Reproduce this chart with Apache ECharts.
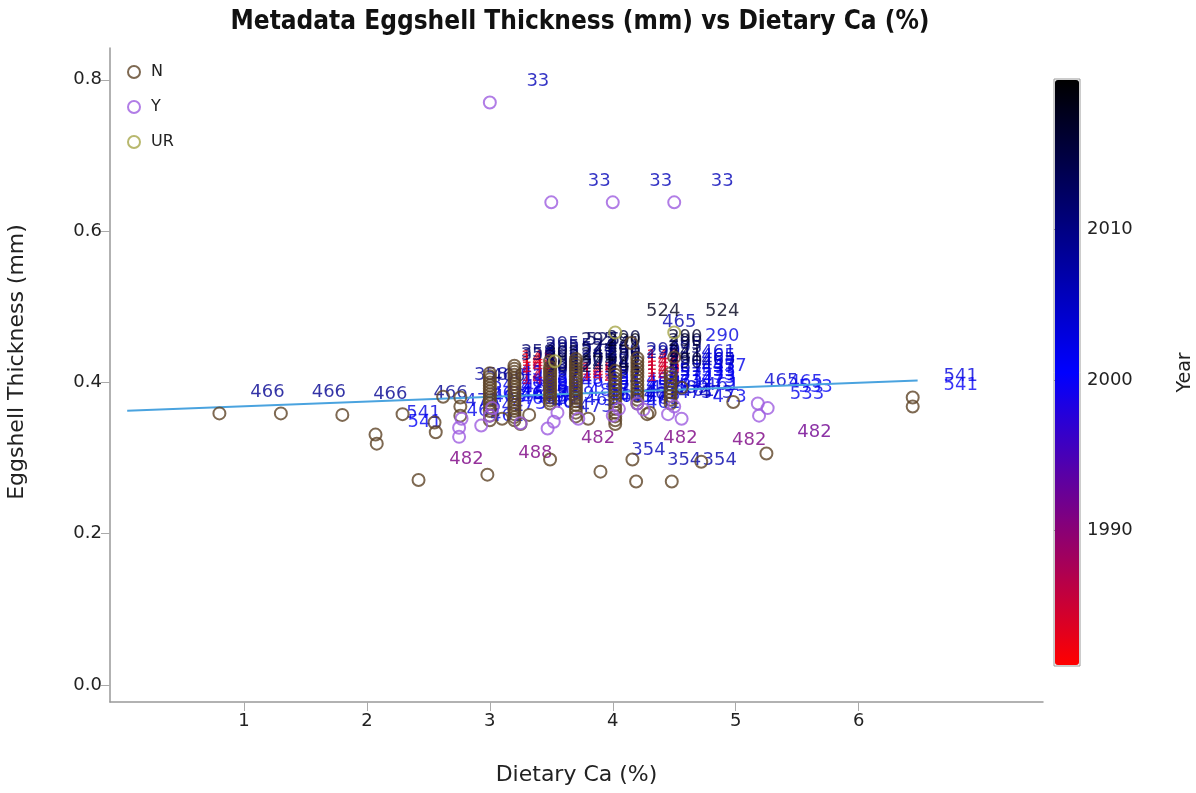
<!DOCTYPE html>
<html lang="en">
<head>
<meta charset="UTF-8">
<title>Metadata Eggshell Thickness vs Dietary Ca</title>
<script src="https://cdn.jsdelivr.net/npm/echarts@6/dist/echarts.min.js"></script>
<style>html,body{margin:0;padding:0;background:#fff}</style>
</head>
<body>
<div id="main" style="width:1196px;height:793px;"></div>
<script>
// each point: [dietary Ca %, eggshell thickness mm, year, reference id]
var nPoints = [
    [0.80, 0.359, 2009, 466], [1.30, 0.359, 2009, 466], [1.80, 0.357, 2009, 466], [2.29, 0.358, 2009, 466],
    [2.07, 0.331, 2003, 541], [2.08, 0.319, 2001, 541],
    [2.55, 0.347, 2004, 473], [2.56, 0.334, 2002, 461], [2.62, 0.381, 2008, 358],
    [2.42, 0.271, 1991, 482], [2.98, 0.278, 1991, 488], [3.49, 0.298, 1991, 482], [3.90, 0.282, 2006, 354],
    [4.16, 0.298, 1991, 482], [4.19, 0.269, 2007, 354], [4.48, 0.269, 2007, 354], [4.72, 0.295, 1991, 482],
    [5.25, 0.306, 1992, 482],
    [4.98, 0.374, 2004, 465], [4.30, 0.360, 2005, 461], [6.44, 0.380, 2003, 541], [6.44, 0.368, 2000, 541],
    [2.76, 0.356, 2001, 461], [2.76, 0.368, 2002, 541], [2.76, 0.380, 2009, 466],
    [3.00, 0.350, 2001, 461], [3.00, 0.362, 2002, 473], [3.00, 0.372, 2000, 489], [3.00, 0.380, 1985, 145],
    [3.00, 0.388, 2001, 457], [3.00, 0.396, 1984, 142], [3.00, 0.404, 1983, 145], [3.00, 0.412, 2012, 358],
    [3.00, 0.356, 2002, 461], [3.00, 0.367, 2001, 473], [3.00, 0.376, 1986, 145], [3.00, 0.384, 2003, 457],
    [3.00, 0.392, 1984, 142], [3.00, 0.400, 1983, 142], [3.00, 0.408, 2011, 358],
    [3.20, 0.350, 2002, 461], [3.20, 0.358, 2001, 473], [3.20, 0.366, 2003, 489], [3.20, 0.374, 2000, 461],
    [3.20, 0.382, 2004, 457], [3.20, 0.390, 2011, 295], [3.20, 0.398, 2013, 305], [3.20, 0.406, 2014, 295],
    [3.20, 0.414, 2012, 305], [3.20, 0.422, 2010, 295],
    [3.20, 0.354, 2001, 473], [3.20, 0.362, 2003, 461], [3.20, 0.370, 2002, 489], [3.20, 0.378, 2001, 457],
    [3.20, 0.386, 2009, 295], [3.20, 0.394, 2015, 305], [3.20, 0.402, 2012, 295], [3.20, 0.410, 2016, 305],
    [3.20, 0.418, 2011, 295],
    [3.49, 0.372, 2002, 461], [3.49, 0.380, 1984, 142], [3.49, 0.388, 1983, 145], [3.49, 0.396, 2015, 241],
    [3.49, 0.404, 2013, 305], [3.49, 0.412, 2016, 241], [3.49, 0.420, 2011, 524],
    [3.49, 0.376, 2001, 457], [3.49, 0.384, 1985, 145], [3.49, 0.392, 2014, 241], [3.49, 0.400, 2012, 305],
    [3.49, 0.408, 2017, 241], [3.49, 0.416, 2010, 524], [3.49, 0.428, 2014, 295],
    [3.70, 0.355, 2003, 461], [3.70, 0.365, 2001, 473], [3.70, 0.375, 2006, 354], [3.70, 0.383, 2002, 457],
    [3.70, 0.391, 2014, 295], [3.70, 0.399, 2012, 241], [3.70, 0.407, 2017, 305], [3.70, 0.415, 2010, 290],
    [3.70, 0.423, 2013, 241], [3.70, 0.431, 2015, 290],
    [3.70, 0.360, 2002, 473], [3.70, 0.370, 2004, 461], [3.70, 0.379, 2001, 457], [3.70, 0.387, 2013, 295],
    [3.70, 0.395, 2016, 241], [3.70, 0.403, 2011, 305], [3.70, 0.411, 2015, 290], [3.70, 0.419, 2012, 241],
    [3.70, 0.427, 2018, 290],
    [4.02, 0.345, 2002, 461], [4.02, 0.355, 2001, 473], [4.02, 0.365, 2003, 457], [4.02, 0.375, 2000, 489],
    [4.02, 0.385, 1985, 142], [4.02, 0.395, 1984, 145], [4.02, 0.405, 1983, 142], [4.02, 0.415, 2009, 290],
    [4.02, 0.350, 2003, 461], [4.02, 0.360, 2002, 473], [4.02, 0.370, 2001, 457], [4.02, 0.380, 1986, 142],
    [4.02, 0.390, 1984, 145], [4.02, 0.400, 1985, 142], [4.02, 0.410, 2008, 290],
    [4.20, 0.372, 2001, 473], [4.20, 0.382, 2003, 457], [4.20, 0.392, 2006, 461], [4.20, 0.402, 2014, 290],
    [4.20, 0.412, 2016, 241], [4.20, 0.422, 2012, 295], [4.20, 0.432, 2017, 290],
    [4.20, 0.377, 2002, 473], [4.20, 0.387, 2004, 457], [4.20, 0.397, 2013, 290], [4.20, 0.407, 2015, 241],
    [4.20, 0.417, 2011, 295], [4.20, 0.427, 2016, 290],
    [4.47, 0.372, 2002, 473], [4.47, 0.382, 2001, 533], [4.47, 0.392, 2003, 457], [4.47, 0.402, 2007, 465],
    [4.47, 0.412, 2004, 461],
    [4.47, 0.377, 2001, 473], [4.47, 0.387, 2002, 533], [4.47, 0.397, 2005, 457], [4.47, 0.407, 2003, 465],
    [3.10, 0.352, 2003, 473], [3.25, 0.345, 2001, 461], [3.32, 0.357, 2002, 489], [3.80, 0.352, 2001, 461],
    [4.28, 0.358, 2003, 473], [4.15, 0.452, 2007, 465], [4.50, 0.433, 2003, 290], [4.56, 0.393, 2002, 457]
];
var yPoints = [
    [3.00, 0.770, 2006, 33], [3.50, 0.638, 2006, 33], [4.00, 0.638, 2006, 33], [4.50, 0.638, 2006, 33],
    [2.75, 0.328, 2002, 461], [2.75, 0.340, 2003, 541], [2.77, 0.352, 2001, 466], [2.93, 0.343, 2000, 473],
    [3.00, 0.356, 2002, 461], [3.02, 0.366, 1999, 489], [3.25, 0.346, 2003, 461], [3.47, 0.339, 2004, 473],
    [3.52, 0.348, 2002, 461], [3.55, 0.360, 2001, 489], [3.72, 0.352, 2003, 461], [4.00, 0.356, 2005, 461],
    [4.05, 0.365, 2003, 473], [4.20, 0.372, 2002, 461], [4.25, 0.364, 2004, 489], [4.45, 0.358, 2006, 473],
    [4.50, 0.368, 2003, 461], [4.56, 0.352, 2002, 473], [5.18, 0.372, 2002, 465], [5.26, 0.366, 2001, 533],
    [5.19, 0.356, 2002, 533]
];
var urPoints = [
    [3.53, 0.428, 2013, 525], [4.02, 0.466, 2018, 524], [4.50, 0.466, 2018, 524]
];
var fitLine = [[0.05, 0.3625], [6.48, 0.4025]];
var xTicks = [1, 2, 3, 4, 5, 6];
var yTicks = [0, 0.2, 0.4, 0.6, 0.8];
var yearTicks = [1990, 2000, 2010];
var yearStops = [[1981, [255, 0, 0]], [2000.5, [0, 0, 255]], [2020, [0, 0, 0]]];

function yearColor(yr) {
    var a = yearStops[0], b = yearStops[1];
    if (yr > yearStops[1][0]) { a = yearStops[1]; b = yearStops[2]; }
    var t = Math.max(0, Math.min(1, (yr - a[0]) / (b[0] - a[0])));
    var c = a[1].map(function (v, i) { return Math.round(v + (b[1][i] - v) * t); });
    return 'rgb(' + c.join(',') + ')';
}

var allPoints = nPoints.concat(yPoints, urPoints);
var font = "'DejaVu Sans', sans-serif";

function circles(name, data, color) {
    return {
        name: name,
        type: 'scatter',
        data: data,
        symbol: 'circle',
        symbolSize: 12,
        z: 3,
        itemStyle: { color: 'rgba(0,0,0,0)', borderColor: color, borderWidth: 2 }
    };
}

var myChart = echarts.init(document.getElementById('main'));
var option = {
    animation: false,
    backgroundColor: '#fff',
    title: {
        text: 'Metadata Eggshell Thickness (mm) vs Dietary Ca (%)',
        left: 575,
        textAlign: 'center',
        top: 4,
        textStyle: { fontFamily: "'DejaVu Sans Condensed', 'Liberation Sans Narrow', sans-serif", fontWeight: 'bold', fontSize: 26, color: '#111' }
    },
    legend: {
        data: ['N', 'Y', 'UR'],
        orient: 'vertical',
        left: 127,
        top: 64,
        padding: 0,
        itemWidth: 12,
        itemHeight: 12,
        itemGap: 19,
        textStyle: { fontFamily: font, fontSize: 16, color: '#222', padding: [0, 0, 0, 6] }
    },
    grid: [
        { left: 110, right: 153, top: 48, bottom: 91, outerBoundsMode: 'none' },
        { left: 1054, top: 79, width: 26, height: 587, outerBoundsMode: 'none', show: true, borderColor: '#999', borderWidth: 1, backgroundColor: 'rgba(0,0,0,0)' }
    ],
    xAxis: [{
        type: 'value',
        min: -0.09,
        max: 7.5,
        name: 'Dietary Ca (%)',
        nameLocation: 'middle',
        nameGap: 62,
        nameTextStyle: { fontFamily: font, fontSize: 22, color: '#222' },
        axisLine: { onZero: false, lineStyle: { color: '#999', width: 1.5 } },
        axisTick: { customValues: xTicks, length: 9, lineStyle: { color: '#aaa' } },
        axisLabel: { customValues: xTicks, fontFamily: font, fontSize: 18, color: '#222', margin: 10 },
        splitLine: { show: false }
    }, {
        gridIndex: 1, type: 'value', show: false, min: 0, max: 1
    }],
    yAxis: [{
        type: 'value',
        min: -0.0225,
        max: 0.842,
        name: 'Eggshell Thickness (mm)',
        nameLocation: 'middle',
        nameGap: 82,
        nameTextStyle: { fontFamily: font, fontSize: 22, color: '#222', padding: [0, 0, 0, 26] },
        axisLine: { show: true, onZero: false, lineStyle: { color: '#999', width: 1.5 } },
        axisTick: { show: true, customValues: yTicks, length: 9, lineStyle: { color: '#aaa' } },
        axisLabel: {
            customValues: yTicks, fontFamily: font, fontSize: 18, color: '#222', margin: 8,
            formatter: function (v) { return v.toFixed(1); }
        },
        splitLine: { show: false }
    }, {
        gridIndex: 1,
        type: 'value',
        position: 'right',
        min: 1981,
        max: 2020,
        name: 'Year',
        nameLocation: 'middle',
        nameRotate: 90,
        nameGap: 96,
        nameTextStyle: { fontFamily: font, fontSize: 19, color: '#222' },
        axisLine: { show: false },
        axisTick: { show: true, customValues: yearTicks, length: 9, lineStyle: { color: '#888' } },
        axisLabel: {
            customValues: yearTicks, fontFamily: font, fontSize: 18, color: '#222', margin: 7,
            formatter: function (v) { return String(v); }
        },
        splitLine: { show: false }
    }],
    visualMap: {
        type: 'continuous',
        min: 1981,
        max: 2020,
        dimension: 2,
        seriesIndex: 4,
        calculable: false,
        orient: 'vertical',
        left: 1055,
        top: 80,
        padding: 0,
        itemWidth: 24,
        itemHeight: 585,
        text: null,
        inRange: { color: ['#ff0000', '#0000ff', '#000000'] }
    },
    series: [
        circles('N', nPoints, '#5e4327'),
        circles('Y', yPoints, '#9d5ce0'),
        circles('UR', urPoints, '#a6a64a'),
        {
            name: 'fit',
            type: 'line',
            data: fitLine,
            showSymbol: false,
            z: 2,
            lineStyle: { color: '#4aa3df', width: 2 }
        },
        {
            name: 'labels',
            type: 'scatter',
            symbolSize: 0,
            z: 1,
            silent: true,
            data: allPoints.map(function (p) {
                return { value: p, label: { color: yearColor(p[2]) } };
            }),
            label: {
                show: true,
                position: 'top',
                distance: 0,
                offset: [48, -12],
                fontFamily: font,
                fontSize: 18,
                formatter: function (p) { return p.value[3]; }
            }
        }
    ]
};
myChart.setOption(option);
</script>
</body>
</html>
